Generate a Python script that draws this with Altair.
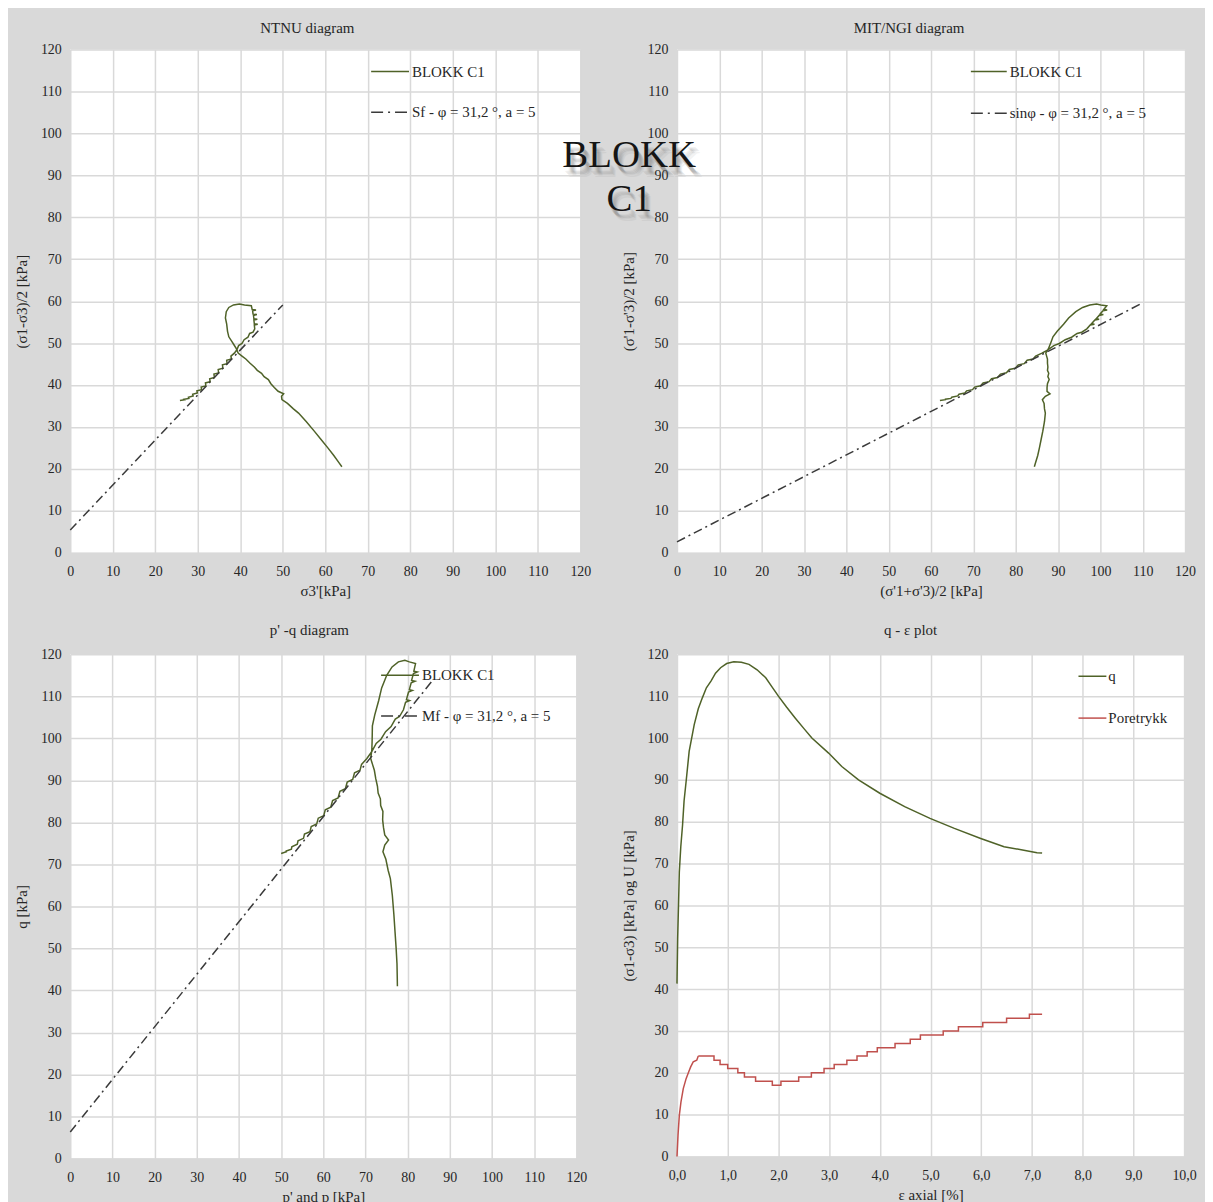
import altair as alt
import pandas as pd

FONT = "Liberation Serif"
GREEN = "#4f6228"
RED = "#c0504d"
DASHC = "#3a3a3a"
GRID = "#d9d9d9"
BG = "#d9d9d9"
TXT = "#262626"

ticks120 = list(range(0, 121, 10))
ticks10 = list(range(0, 11))

# Stress path: sigma3' and (sigma1-sigma3)/2
sig3 = [63.9, 63.2, 62.0, 60.6, 59.0, 57.4, 55.5, 53.7, 52.5, 51.1, 49.8, 49.7, 50.2, 48.9,
        48.0, 47.2, 46.6, 45.6, 45.0, 44.0, 43.3, 42.3, 41.3, 40.4, 39.5,
        39.1, 38.5, 38.0, 37.3, 37.0, 36.8, 36.5, 36.7, 37.3, 38.4, 39.8, 41.0, 42.6,
        42.8, 43.7, 42.9, 43.0, 43.9, 43.1, 43.2, 44.0, 43.2, 43.3, 44.1, 43.3, 43.4, 43.0,
        42.2, 41.8, 40.9, 40.4, 39.6, 39.2, 38.6,
        37.8, 37.9, 36.8, 36.9, 35.8, 35.9, 34.8, 34.9, 33.8, 33.9, 32.8, 32.9, 31.8, 31.9,
        30.8, 30.9, 29.8, 29.9, 28.8, 28.9, 27.8, 27.9, 26.8, 26.9, 25.8]
tau = [20.5, 21.5, 23.2, 25.0, 27.0, 29.0, 31.3, 33.3, 34.3, 35.6, 36.5, 37.3, 37.9, 38.5,
       39.4, 40.3, 41.3, 42.0, 42.8, 43.5, 44.3, 45.2, 46.2, 46.9, 47.6,
       48.6, 49.6, 50.4, 51.5, 52.8, 54.5, 56.0, 57.5, 58.5, 59.1, 59.3, 59.1, 58.9,
       58.0, 57.9, 57.7, 56.9, 56.8, 56.6, 55.8, 55.7, 55.5, 54.6, 54.5, 54.3, 53.4, 52.6,
       52.3, 51.4, 50.8, 49.9, 49.4, 48.4, 47.6,
       46.9, 46.2, 45.9, 45.1, 44.8, 44.0, 43.7, 42.9, 42.6, 41.8, 41.5, 40.8, 40.5, 39.8,
       39.5, 38.9, 38.6, 38.1, 37.8, 37.4, 37.1, 36.8, 36.6, 36.5, 36.3]

# q - epsilon curve
eps_q = [0.0, 0.013, 0.03, 0.046, 0.075, 0.11, 0.14, 0.18, 0.24, 0.34, 0.42, 0.5, 0.58, 0.67,
         0.76, 0.86, 0.98, 1.12, 1.27, 1.42, 1.58, 1.75, 1.87, 2.0, 2.16, 2.33, 2.5, 2.66,
         2.99, 3.25, 3.58, 4.0, 4.49, 4.99, 5.47, 5.99, 6.45, 6.84, 7.1, 7.2]
q_vals = [41.3, 52.0, 60.0, 68.0, 74.0, 79.2, 85.0, 89.6, 96.8, 103.2, 107.0, 109.6, 112.0,
          113.6, 115.5, 116.8, 117.8, 118.2, 118.1, 117.6, 116.3, 114.4, 112.3, 110.0, 107.4,
          104.8, 102.3, 100.0, 96.4, 93.2, 90.0, 86.8, 83.6, 80.8, 78.4, 76.0, 74.0, 73.2,
          72.6, 72.5]

# pore pressure: initial rise, then stepped readings
eps_u_rise = [0.0, 0.02, 0.046, 0.078, 0.124, 0.18, 0.23, 0.27, 0.32, 0.39, 0.42]
u_rise = [0.0, 5.0, 9.8, 13.0, 16.2, 18.6, 20.2, 21.4, 22.6, 23.0, 24.0]
eps_u_step = [0.42, 0.73, 0.85, 1.0, 1.2, 1.33, 1.55, 1.88, 2.05, 2.4, 2.65, 2.9, 3.1, 3.35,
              3.55, 3.75, 3.95, 4.3, 4.6, 4.8, 5.25, 5.55, 6.03, 6.5, 6.95, 7.2]
u_step = [24, 23, 22, 21, 20, 19, 18, 17, 18, 19, 20, 21, 22, 23, 24, 25, 26, 27, 28, 29, 30,
          31, 32, 33, 34, 34]

# failure lines (phi = 31.2 deg, a = 5)
ntnu_fx, ntnu_fy = [0, 50], [5.4, 59.1]
mit_fx, mit_fy = [0, 110], [2.6, 59.6]
pq_fx, pq_fy = [0, 86], [6.3, 113.9]

path_df = pd.DataFrame({"i": list(range(len(sig3))), "sig3": sig3, "tau": tau})
one = pd.DataFrame({"d": [0]})

sc120 = alt.Scale(domain=[0, 120], nice=False, zero=True)
sc10 = alt.Scale(domain=[0, 10], nice=False, zero=True)


def xenc(title, scale=sc120, values=ticks120, expr=None):
    ax = alt.Axis(values=values, title=title)
    if expr:
        ax = alt.Axis(values=values, title=title, labelExpr=expr)
    return alt.X("x:Q", scale=scale, axis=ax)


def yenc(title):
    return alt.Y("y:Q", scale=sc120, axis=alt.Axis(values=ticks120, title=title))


def legend(items):
    layers = []
    for (x1, x2, y, color, dash, label, tx) in items:
        kw = dict(color=color, strokeWidth=1.5)
        if dash:
            kw["strokeDash"] = dash
        layers.append(alt.Chart(one).mark_rule(**kw).encode(
            x=alt.value(x1), x2=alt.value(x2), y=alt.value(y)))
        layers.append(alt.Chart(one).mark_text(
            align="left", baseline="middle", font=FONT, fontSize=15, color=TXT).encode(
            x=alt.value(tx), y=alt.value(y), text=alt.value(label)))
    return layers


DASHPAT = [9, 4, 2, 4]
LEGDASH = [12, 5, 2, 5]


def title(t, dx, off):
    return alt.TitleParams(t, dx=dx, offset=off, frame="group", anchor="middle",
                           font=FONT, fontSize=15, fontWeight="normal", color=TXT)


# Panel 1 NTNU
xa = xenc("σ3'[kPa]")
ya = yenc("(σ1-σ3)/2 [kPa]")
p1_path = alt.Chart(path_df).transform_calculate(x="datum.sig3", y="datum.tau").mark_line(
    color=GREEN, strokeWidth=1.5).encode(x=xa, y=ya, order="i:Q")
p1_fail = alt.Chart(pd.DataFrame({"x": ntnu_fx, "y": ntnu_fy})).mark_line(
    color=DASHC, strokeWidth=1.5, strokeDash=DASHPAT).encode(x=xa, y=ya)
p1 = alt.layer(p1_path, p1_fail, *legend([
    (302, 340, 22, GREEN, None, "BLOKK C1", 343),
    (302, 340, 63, DASHC, LEGDASH, "Sf - φ = 31,2 °, a =  5", 343),
])).properties(width=512, height=505, title=title("NTNU diagram", -18, 7))

# Panel 2 MIT/NGI
xb = xenc("(σ'1+σ'3)/2 [kPa]")
yb = yenc("(σ'1-σ'3)/2 [kPa]")
p2_path = alt.Chart(path_df).transform_calculate(x="datum.sig3 + datum.tau", y="datum.tau").mark_line(
    color=GREEN, strokeWidth=1.5).encode(x=xb, y=yb, order="i:Q")
p2_fail = alt.Chart(pd.DataFrame({"x": mit_fx, "y": mit_fy})).mark_line(
    color=DASHC, strokeWidth=1.5, strokeDash=DASHPAT).encode(x=xb, y=yb)

big = []
for (dx, dy, op, col) in [(3, 6, 0.10, "#555"), (5, 8, 0.10, "#555"), (4, 7, 0.12, "#555"),
                          (6, 10, 0.07, "#555"), (2, 5, 0.07, "#555"), (0, 0, 1.0, "#151515")]:
    for (txt, yy) in [("BLOKK", 106), ("C1", 150)]:
        big.append(alt.Chart(one).mark_text(
            align="center", baseline="middle", font=FONT, fontSize=39, color=col,
            opacity=op).encode(x=alt.value(-48 + dx), y=alt.value(yy + dy), text=alt.value(txt)))

p2 = alt.layer(p2_path, p2_fail, *legend([
    (295, 331, 22, GREEN, None, "BLOKK C1", 334),
    (295, 331, 64, DASHC, LEGDASH, "sinφ - φ = 31,2 °, a =  5", 334),
]), *big).properties(width=510, height=505, title=title("MIT/NGI diagram", -22, 7))

# Panel 3 p'-q
xc = xenc("p' and p [kPa]")
yc = yenc("q [kPa]")
p3_path = alt.Chart(path_df).transform_calculate(
    x="datum.sig3 + 2 * datum.tau / 3", y="2 * datum.tau").mark_line(
    color=GREEN, strokeWidth=1.5).encode(x=xc, y=yc, order="i:Q")
p3_fail = alt.Chart(pd.DataFrame({"x": pq_fx, "y": pq_fy})).mark_line(
    color=DASHC, strokeWidth=1.5, strokeDash=DASHPAT).encode(x=xc, y=yc)
p3 = alt.layer(p3_path, p3_fail, *legend([
    (312, 350, 21, GREEN, None, "BLOKK C1", 353),
    (312, 350, 62, DASHC, LEGDASH, "Mf - φ = 31,2 °, a =  5", 353),
])).properties(width=508, height=506, title=title("p' -q diagram", -14, 9))

# Panel 4 q - eps
xd = xenc("ε axial [%]", scale=sc10, values=ticks10,
          expr="replace(format(datum.value, '.1f'), '.', ',')")
yd = yenc("(σ1-σ3) [kPa] og U [kPa]")
p4_q = alt.Chart(pd.DataFrame({"x": eps_q, "y": q_vals})).mark_line(
    color=GREEN, strokeWidth=1.5).encode(x=xd, y=yd)
p4_u1 = alt.Chart(pd.DataFrame({"x": eps_u_rise, "y": u_rise})).mark_line(
    color=RED, strokeWidth=1.5).encode(x=xd, y=yd)
p4_u2 = alt.Chart(pd.DataFrame({"x": eps_u_step, "y": u_step})).mark_line(
    color=RED, strokeWidth=1.5, interpolate="step-after").encode(x=xd, y=yd)
p4 = alt.layer(p4_q, p4_u1, p4_u2, *legend([
    (403, 431, 22, GREEN, None, "q", 433),
    (403, 431, 64, RED, None, "Poretrykk", 433),
])).properties(width=509, height=504, title=title("q - ε plot", -20, 9))

chart = alt.concat(p1, p2, p3, p4, columns=2,
                   spacing=alt.RowColnumber(row=102, column=97), bounds="flush").properties(
    padding={"left": 6.5, "top": 10.5, "right": 8, "bottom": 5},
    background=BG,
).configure_view(fill="white", strokeWidth=0).configure_axis(
    labelFont=FONT, labelFontSize=14, labelColor=TXT, titleFont=FONT, titleFontSize=15,
    titleFontWeight="normal", titleColor=TXT, grid=True, gridColor=GRID, gridWidth=1.5,
    gridOpacity=1, domain=False, ticks=False, tickSize=0, labelFlush=False, labelOverlap=False,
).configure_axisX(labelPadding=12, titlePadding=5).configure_axisY(labelPadding=9, titlePadding=10.5)

chart.save("out.html", embed_options={"renderer": "svg", "actions": False})
